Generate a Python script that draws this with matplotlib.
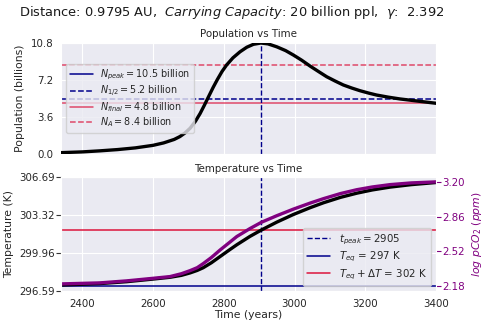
import numpy as np
import matplotlib
matplotlib.use('Agg')
import matplotlib.pyplot as plt
import seaborn as sns

sns.set_style('darkgrid')
plt.rcParams['font.family'] = ['DejaVu Sans']

# population curve (billions)
years_pop = [2340, 2400, 2450, 2500, 2550, 2600, 2630, 2660, 2676, 2690, 2705, 2720,
             2733, 2745, 2757, 2770, 2782, 2795, 2808, 2826, 2846, 2865, 2884, 2905,
             2925, 2950, 2975, 2997, 3020, 3044, 3068, 3091, 3115, 3138, 3162, 3185,
             3210, 3232, 3265, 3298, 3350, 3400]
population = [0.13, 0.20, 0.30, 0.42, 0.58, 0.82, 1.05, 1.38, 1.65, 1.98, 2.44, 3.10,
              3.82, 4.60, 5.42, 6.30, 7.05, 7.80, 8.42, 9.10, 9.67, 10.10, 10.38, 10.50,
              10.42, 10.14, 9.78, 9.36, 8.88, 8.32, 7.80, 7.31, 6.90, 6.53, 6.24, 5.99,
              5.76, 5.58, 5.38, 5.21, 5.00, 4.80]

# temperature (K) and log pCO2 curves
years_temp = [2340, 2450, 2526, 2600, 2648, 2680, 2705, 2725, 2742, 2765, 2790, 2815,
              2837, 2874, 2907, 2950, 2997, 3044, 3082, 3130, 3176, 3220, 3270, 3330,
              3400]
temperature = [297.12, 297.25, 297.42, 297.65, 297.81, 297.98, 298.20, 298.42, 298.66,
               299.10, 299.66, 300.22, 300.70, 301.44, 302.02, 302.71, 303.39, 303.99,
               304.43, 304.91, 305.28, 305.57, 305.82, 306.04, 306.23]
log_pco2 = [2.200, 2.210, 2.230, 2.255, 2.272, 2.300, 2.331, 2.360, 2.400, 2.460, 2.535,
            2.605, 2.667, 2.745, 2.808, 2.872, 2.937, 2.996, 3.040, 3.090, 3.128, 3.155,
            3.178, 3.195, 3.205]

# reference levels
t_peak = 2905
n_peak = 10.5
n_half = 5.2
n_final = 4.8
n_a = 8.4
t_eq = 297.03
t_warm = 302.03

pop_tick_labels = ['0.0', '3.6', '7.2', '10.8']
temp_ticks = [296.59, 299.96, 303.32, 306.69]
co2_ticks = [2.18, 2.52, 2.86, 3.20]
year_ticks = [2400, 2600, 2800, 3000, 3200, 3400]

fs = 7.4
fig = plt.figure(figsize=(4.85, 3.33), dpi=100)
ax1 = fig.add_axes([0.1258, 0.5375, 0.7732, 0.3333])
ax2 = fig.add_axes([0.1258, 0.1261, 0.7732, 0.3414], sharex=ax1)

fig.text(0.477, 0.961,
         r'Distance: 0.9795 AU,  $\it{Carrying\ Capacity}$: 20 billion ppl,  $\gamma$:  2.392',
         ha='center', va='center', fontsize=9.4, color='0.1')

# top panel: population
ax1.plot(years_pop, population, color='black', lw=2.4, zorder=5)
ax1.axhline(n_peak, color='darkblue', lw=1.1, label=r'$N_{peak} = 10.5$ billion')
ax1.axhline(n_half, color='darkblue', lw=1.1, ls='--', label=r'$N_{1/2} = 5.2$ billion')
ax1.axhline(n_final, color='crimson', lw=1.1, alpha=0.75, label=r'$N_{final} = 4.8$ billion')
ax1.axhline(n_a, color='crimson', lw=1.1, ls='--', alpha=0.75, label=r'$N_A = 8.4$ billion')
ax1.axvline(t_peak, color='darkblue', lw=1.0, ls='--')
ax1.set_ylim(0, n_peak)
ax1.set_yticks(np.linspace(0, n_peak, 4))
ax1.set_yticklabels(pop_tick_labels)
ax1.set_ylabel('Population (billions)', fontsize=7.8)
ax1.set_title('Population vs Time', fontsize=fs, pad=4)
ax1.tick_params(axis='y', labelsize=fs, pad=2)
ax1.tick_params(axis='x', labelbottom=False)
ax1.legend(loc='center left', fontsize=6.9, labelspacing=0.15, handlelength=2.4)

# bottom panel: temperature and pCO2
ax2.plot(years_temp, temperature, color='black', lw=2.4, zorder=5)
ax2.axvline(t_peak, color='darkblue', lw=1.0, ls='--', label=r'$t_{peak} = 2905$')
ax2.axhline(t_eq, color='darkblue', lw=1.1, label=r'$T_{eq}$ = 297 K')
ax2.axhline(t_warm, color='crimson', lw=1.1, label=r'$T_{eq} + \Delta T$ = 302 K')
ax2.set_xlim(2340, 3400)
ax2.set_xticks(year_ticks)
ax2.set_ylim(temp_ticks[0], temp_ticks[-1])
ax2.set_yticks(temp_ticks)
ax2.set_yticklabels([f'{v:.2f}' for v in temp_ticks])
ax2.set_xlabel('Time (years)', fontsize=7.8, labelpad=1)
ax2.set_ylabel('Temperature (K)', fontsize=7.8)
ax2.set_title('Temperature vs Time', fontsize=fs, pad=4)
ax2.tick_params(axis='x', labelsize=fs, pad=2)
ax2.tick_params(axis='y', labelsize=fs, left=True, length=3.5, width=0.8, color='0.2', pad=1)
ax2.legend(loc='lower right', fontsize=fs, labelspacing=0.3, handlelength=2.3)

ax3 = ax2.twinx()
ax3.plot(years_temp, log_pco2, color='purple', lw=2.4)
ax3.grid(False)
ax3.set_ylim(2.13, 3.25)
ax3.set_yticks(co2_ticks)
ax3.set_yticklabels([f'{v:.2f}' for v in co2_ticks])
ax3.tick_params(axis='y', labelsize=fs, right=True, length=3.5, width=0.8,
                color='purple', labelcolor='purple', pad=1)
ax3.set_ylabel(r'$log\ pCO_2\ (ppm)$', color='purple', fontsize=7.8)

fig.savefig('out.png', dpi=100)
